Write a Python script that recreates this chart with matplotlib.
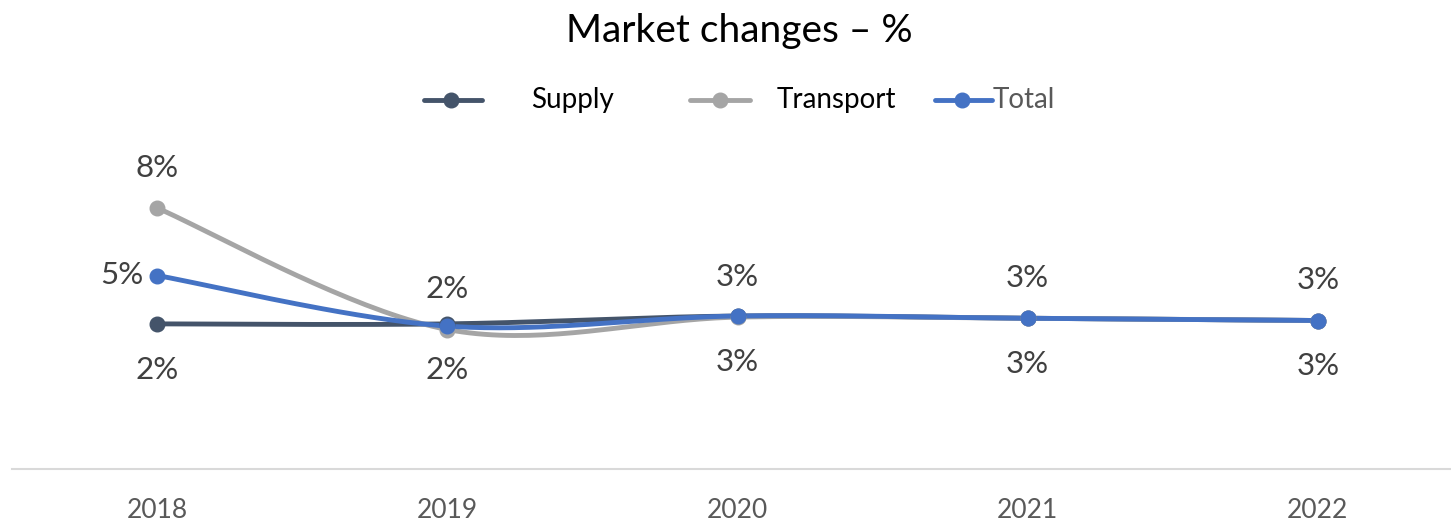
import numpy as np
import matplotlib
matplotlib.use("Agg")
import matplotlib.pyplot as plt
from matplotlib.lines import Line2D

plt.rcParams['font.family'] = ['Lato', 'DejaVu Sans']

# ---- data ----
years = ["2018", "2019", "2020", "2021", "2022"]
supply = [2.45, 2.45, 2.8, 2.7, 2.6]
transport = [7.6, 2.2, 2.75, 2.7, 2.6]
total = [4.6, 2.35, 2.8, 2.7, 2.6]
series_names = ["Supply", "Transport", "Total"]
colors = ["#44546A", "#A5A5A5", "#4472C4"]
title = "Market changes \u2013 %"

W, H = 1451, 525
fig = plt.figure(figsize=(W / 100, H / 100), dpi=100)
ax = fig.add_axes([12 / W, (H - 469) / H, 1451 / W, (469 - 154) / H])
ax.set_xlim(-0.5, 4.5)
ax.set_ylim(-4, 10)


def smooth(xs, ys, n=40):
    xs = np.asarray(xs, float)
    ys = np.asarray(ys, float)
    px = np.concatenate([[xs[0]], xs, [xs[-1]]])
    py = np.concatenate([[ys[0]], ys, [ys[-1]]])
    outx, outy = [], []
    t = np.linspace(0, 1, n)
    for i in range(1, len(px) - 2):
        p0 = np.array([px[i], py[i]])
        p3 = np.array([px[i + 1], py[i + 1]])
        c1 = p0 + (np.array([px[i + 1], py[i + 1]]) - np.array([px[i - 1], py[i - 1]])) / 6
        c2 = p3 - (np.array([px[i + 2], py[i + 2]]) - np.array([px[i], py[i]])) / 6
        b = ((1 - t) ** 3)[:, None] * p0 + (3 * (1 - t) ** 2 * t)[:, None] * c1 + \
            (3 * (1 - t) * t ** 2)[:, None] * c2 + (t ** 3)[:, None] * p3
        outx.extend(b[:, 0])
        outy.extend(b[:, 1])
    return outx, outy


x = np.arange(len(years))
lw = 3.5
ms = 10.5
for vals, c in zip([supply, transport, total], colors):
    sx, sy = smooth(x, vals)
    ax.plot(sx, sy, color=c, lw=lw, solid_capstyle='round', zorder=2)
    ax.plot(x, vals, 'o', color=c, ms=ms, zorder=3)

lab_color = "#404040"
lab_fs = 22.5
for xi, v in zip(x, supply):
    ax.annotate(f"{v:.0f}%", (xi, v), xytext=(0, -33), textcoords='offset points',
                ha='center', va='center', fontsize=lab_fs, color=lab_color)
for xi, v in zip(x, transport):
    ax.annotate(f"{v:.0f}%", (xi, v), xytext=(0, 29), textcoords='offset points',
                ha='center', va='center', fontsize=lab_fs, color=lab_color)
ax.annotate(f"{total[0]:.0f}%", (x[0], total[0]), xytext=(-10, 0), textcoords='offset points',
            ha='right', va='center', fontsize=lab_fs, color=lab_color)

for s in ["top", "left", "right"]:
    ax.spines[s].set_visible(False)
ax.spines["bottom"].set_color("#D9D9D9")
ax.spines["bottom"].set_linewidth(1.5)
ax.set_yticks([])
ax.set_xticks(x)
ax.set_xticklabels(years, fontsize=19, color="#595959")
ax.tick_params(axis='x', length=0, pad=21)

fig.text(739 / W, 1 - 31 / H, title, ha='center', va='center', fontsize=28, color="#000000")

# legend drawn manually
leg_y = 1 - 100 / H
handles = [(424, 482, 451), (690, 750, 720), (935, 992, 962)]
text_x = [531, 777, 993]
text_colors = ["#000000", "#000000", "#595959"]
for (x0, x1, xm), c, name, tx, tc in zip(handles, colors, series_names, text_x, text_colors):
    fig.add_artist(Line2D([x0 / W, x1 / W], [leg_y, leg_y], color=c, lw=lw,
                          solid_capstyle='round', transform=fig.transFigure))
    fig.add_artist(Line2D([xm / W], [leg_y], marker='o', color=c, ms=ms,
                          transform=fig.transFigure))
    fig.text(tx / W, leg_y, name, ha='left', va='center', fontsize=20, color=tc)

fig.savefig("out.png", dpi=100)
